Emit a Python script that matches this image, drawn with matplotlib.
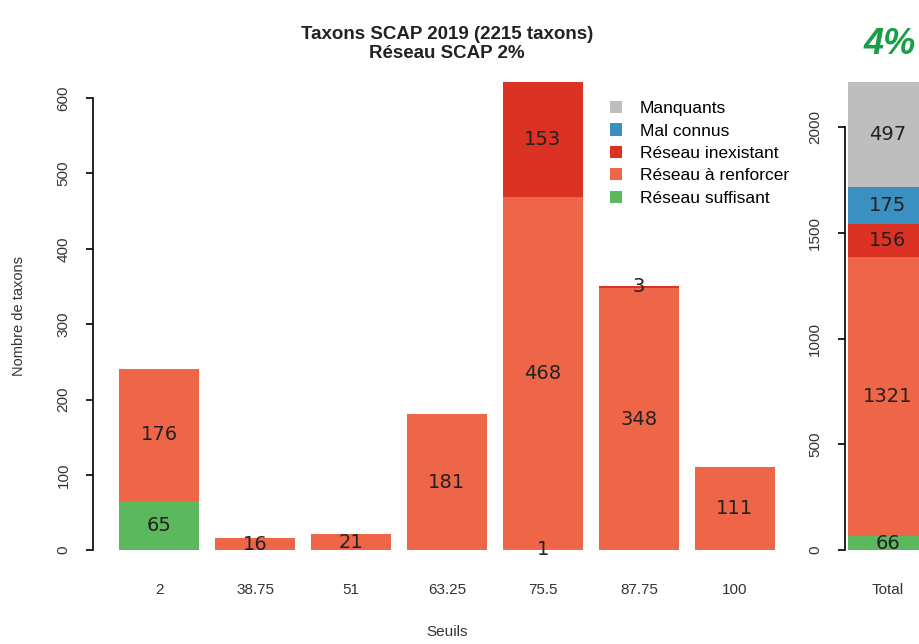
import matplotlib
matplotlib.use('Agg')
import matplotlib.pyplot as plt
import numpy as np
from matplotlib.patches import Patch

plt.rcParams['font.family'] = ['Liberation Sans', 'DejaVu Sans']

# Data
seuils = ['2', '38.75', '51', '63.25', '75.5', '87.75', '100']
suffisant = [65, 0, 0, 0, 1, 0, 0]
renforcer = [176, 16, 21, 181, 468, 348, 111]
inexistant = [0, 0, 0, 0, 153, 3, 0]
mal_connus = [0, 0, 0, 0, 0, 0, 0]
manquants = [0, 0, 0, 0, 0, 0, 0]

total_values = [66, 1321, 156, 175, 497]  # suffisant, renforcer, inexistant, mal connus, manquants

categories = ['Réseau suffisant', 'Réseau à renforcer', 'Réseau inexistant', 'Mal connus', 'Manquants']
cat_colors = ['#5cb85c', '#ef6548', '#dc3223', '#3b8fc1', '#bebebe']

txt_col = '#333333'
lab_col = '#222222'


def style_axis(a, yticks):
    a.set_yticks(yticks)
    a.set_yticklabels([str(v) for v in yticks], fontsize=11, color=txt_col)
    a.tick_params(axis='y', labelrotation=90, length=5, width=1.2, pad=11)
    for lbl in a.get_yticklabels():
        lbl.set_va('center')
    a.tick_params(axis='x', length=0, pad=10)
    for s in ['top', 'right', 'bottom']:
        a.spines[s].set_visible(False)
    a.spines['left'].set_bounds(yticks[0], yticks[-1])
    a.spines['left'].set_linewidth(1.2)


fig = plt.figure(figsize=(9.2, 6.44), dpi=100)

# ---- left panel: per threshold
ax = fig.add_axes([0.101, 0.1165, 0.7696, 0.786])
x = 0.7 + 1.2 * np.arange(len(seuils))
series = [suffisant, renforcer, inexistant, mal_connus, manquants]
bottom = np.zeros(len(seuils))
for vals, col in zip(series, cat_colors):
    vals = np.array(vals)
    ax.bar(x, vals, width=1.0, bottom=bottom, color=col, edgecolor='none')
    for xi, b, v in zip(x, bottom, vals):
        if v > 0:
            ax.text(xi, b + v / 2, str(v), ha='center', va='center',
                    fontsize=14, color=lab_col, family='DejaVu Sans')
    bottom += vals

top = bottom.max()
ax.set_xlim(0.2 - 0.04 * 8.2, 8.4 + 0.04 * 8.2)
ax.set_ylim(-0.04 * top, top * 1.04)
ax.set_xticks(x)
ax.set_xticklabels(seuils, fontsize=11, color=txt_col)
style_axis(ax, list(range(0, 601, 100)))
ax.set_ylabel('Nombre de taxons', fontsize=10.5, color=txt_col, labelpad=22)
ax.set_xlabel('Seuils', fontsize=11, color=txt_col, labelpad=20)

fig.text(447 / 920, 1 - 44 / 644, 'Taxons SCAP 2019 (2215 taxons)\nRéseau SCAP 2%',
         ha='center', va='center', fontsize=13.5, fontweight='bold',
         color=lab_col, linespacing=1.1)

handles = [Patch(facecolor=c, edgecolor='none', label=l)
           for c, l in zip(cat_colors[::-1], categories[::-1])]
ax.legend(handles=handles, loc='upper left', bbox_to_anchor=(610 / 920, 1 - 101 / 644),
          bbox_transform=fig.transFigure, frameon=False, fontsize=12.5,
          handlelength=0.7, handleheight=0.7, handletextpad=1.0,
          labelspacing=0.42, borderaxespad=0, borderpad=0)

# ---- right panel: total bar (partly outside the figure)
ax2 = fig.add_axes([0.918, 0.1165, 0.0935, 0.786])
b = 0
for v, col in zip(total_values, cat_colors):
    ax2.bar([0.7], [v], width=1.0, bottom=b, color=col, edgecolor='none')
    ax2.text(0.7, b + v / 2, str(v), ha='center', va='center',
             fontsize=14, color=lab_col, family='DejaVu Sans')
    b += v
ax2.set_xlim(0.16, 1.24)
ax2.set_ylim(-0.04 * b, b * 1.04)
ax2.set_xticks([0.7])
ax2.set_xticklabels(['Total'], fontsize=11, color=txt_col)
style_axis(ax2, list(range(0, 2001, 500)))

fig.text(890 / 920, 1 - 45 / 644, '4%', ha='center', va='center', fontsize=26,
         fontweight='bold', fontstyle='italic', color='#1a9e48')

fig.savefig('out.png', dpi=100)
